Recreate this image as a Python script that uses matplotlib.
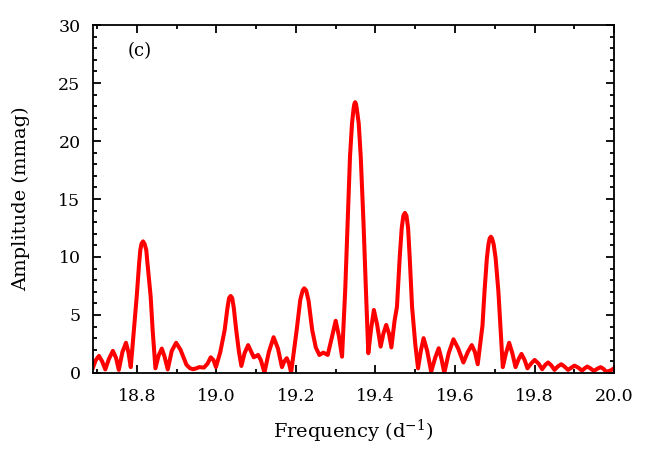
import matplotlib
matplotlib.use("Agg")
import matplotlib.pyplot as plt
from matplotlib.ticker import MultipleLocator

# amplitude spectrum: frequency (1/d), amplitude (mmag)
freq = [18.690, 18.697, 18.705, 18.713, 18.721, 18.730, 18.740, 18.748, 18.755,
        18.764, 18.773, 18.779, 18.785, 18.793, 18.800, 18.806, 18.809, 18.812,
        18.816, 18.820, 18.824, 18.827, 18.835, 18.840, 18.847, 18.855, 18.863,
        18.870, 18.878, 18.888, 18.899, 18.910, 18.925, 18.934, 18.942, 18.950,
        18.957, 18.969, 18.978, 18.986, 18.993, 18.999, 19.010, 19.021, 19.028,
        19.032, 19.036, 19.040, 19.044, 19.050, 19.057, 19.063, 19.071, 19.080,
        19.088, 19.094, 19.100, 19.105, 19.112, 19.121, 19.132, 19.144, 19.155,
        19.165, 19.171, 19.177, 19.183, 19.188, 19.202, 19.211, 19.217, 19.221,
        19.226, 19.232, 19.241, 19.250, 19.259, 19.269, 19.280, 19.290, 19.300,
        19.308, 19.316, 19.324, 19.330, 19.336, 19.341, 19.345, 19.347, 19.349,
        19.351, 19.353, 19.358, 19.363, 19.370, 19.376, 19.382, 19.389, 19.396,
        19.404, 19.413, 19.420, 19.427, 19.434, 19.440, 19.448, 19.454, 19.461,
        19.466, 19.470, 19.474, 19.478, 19.482, 19.486, 19.492, 19.500, 19.507,
        19.514, 19.521, 19.530, 19.540, 19.550, 19.559, 19.566, 19.573, 19.584,
        19.596, 19.608, 19.621, 19.632, 19.642, 19.650, 19.657, 19.669, 19.674,
        19.680, 19.684, 19.687, 19.690, 19.693, 19.697, 19.702, 19.709, 19.714,
        19.720, 19.728, 19.736, 19.744, 19.752, 19.760, 19.767, 19.775, 19.782,
        19.791, 19.800, 19.810, 19.819, 19.827, 19.834, 19.842, 19.850, 19.858,
        19.867, 19.875, 19.884, 19.892, 19.900, 19.910, 19.919, 19.926, 19.932,
        19.940, 19.949, 19.957, 19.966, 19.973, 19.980, 19.990, 20.000]
amp = [0.45, 1.10, 1.47, 1.00, 0.30, 1.20, 1.90, 1.30, 0.26,
       1.80, 2.60, 1.80, 0.50, 3.70, 6.60, 9.45, 10.60, 11.15,
       11.35, 11.10, 10.60, 9.45, 6.60, 3.70, 0.40, 1.50, 2.10,
       1.40, 0.30, 1.90, 2.60, 2.00, 0.70, 0.40, 0.32, 0.40,
       0.50, 0.46, 0.80, 1.35, 1.10, 0.50, 1.80, 3.70, 5.60,
       6.45, 6.64, 6.45, 5.60, 3.70, 1.80, 0.60, 1.70, 2.40,
       1.80, 1.35, 1.45, 1.55, 1.10, 0.03, 1.80, 3.08, 2.10,
       0.50, 1.00, 1.27, 0.80, 0.03, 3.70, 6.30, 7.10, 7.30,
       7.10, 6.20, 3.70, 2.20, 1.55, 1.75, 1.55, 3.00, 4.50,
       3.20, 1.40, 7.16, 12.90, 18.65, 21.50, 22.80, 23.20, 23.35,
       23.20, 22.80, 21.50, 18.65, 12.90, 7.16, 1.70, 3.80, 5.43,
       4.20, 2.27, 3.40, 4.14, 3.40, 2.20, 4.50, 5.70, 10.00,
       12.50, 13.55, 13.80, 13.55, 12.50, 10.00, 5.70, 2.50, 0.40,
       1.90, 3.00, 1.90, 0.10, 1.30, 2.13, 1.20, 0.00, 1.70,
       2.90, 2.10, 0.90, 1.80, 2.40, 1.80, 0.75, 4.10, 7.00,
       9.90, 11.10, 11.60, 11.75, 11.60, 11.10, 9.90, 7.00, 4.10,
       0.50, 1.70, 2.60, 1.70, 0.50, 1.20, 1.64, 1.10, 0.40,
       0.80, 1.12, 0.80, 0.32, 0.70, 0.90, 0.65, 0.26, 0.55,
       0.75, 0.55, 0.26, 0.45, 0.63, 0.45, 0.20, 0.40, 0.55,
       0.40, 0.17, 0.35, 0.50, 0.35, 0.10, 0.20, 0.40]

plt.rcParams['font.family'] = ['DejaVu Serif']
plt.rcParams['mathtext.fontset'] = 'dejavuserif'

fig = plt.figure(figsize=(6.64, 4.65), dpi=100)
ax = fig.add_axes([0.140, 0.198, 0.785, 0.748])

ax.plot(freq, amp, color='#ff0000', lw=2.9, solid_joinstyle='round')

ax.set_xlim(18.69, 20.0)
ax.set_ylim(0, 30)
ax.xaxis.set_minor_locator(MultipleLocator(0.1))
ax.yaxis.set_major_locator(MultipleLocator(5))
ax.yaxis.set_minor_locator(MultipleLocator(1))
ax.set_xticks([18.8, 19.0, 19.2, 19.4, 19.6, 19.8, 20.0])
ax.set_xticklabels(['18.8', '19.0', '19.2', '19.4', '19.6', '19.8', '20.0'])
ax.tick_params(which='both', direction='in', top=True, right=True,
               labelsize=12.5, width=1.3, colors='black')
ax.tick_params(which='major', length=6)
ax.tick_params(which='minor', length=3)
ax.tick_params(axis='x', pad=11)
ax.tick_params(axis='y', pad=9)
for s in ax.spines.values():
    s.set_linewidth(1.3)

ax.set_xlabel('Frequency (d$^{-1}$)', fontsize=14, labelpad=9)
ax.set_ylabel('Amplitude (mmag)', fontsize=14, labelpad=20)
ax.text(0.090, 0.925, '(c)', transform=ax.transAxes, fontsize=13,
        ha='center', va='center')

fig.savefig('out.png', dpi=100)
